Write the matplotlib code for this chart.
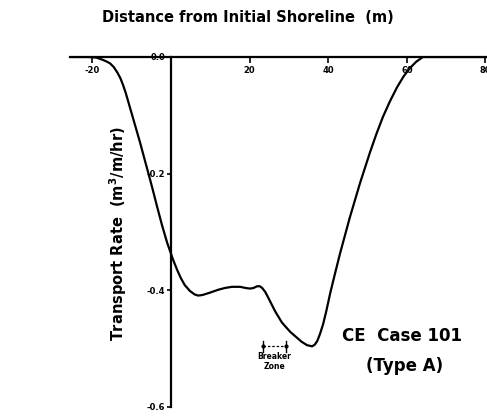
import matplotlib
matplotlib.use("Agg")
import matplotlib.pyplot as plt

# Data
dist = [-26, -21, -19, -17.3, -16.3, -15.5, -14.6, -13.7, -12.9, -12.2, -11.5,
        -10.9, -10.3, -9.7, -8.8, -7.9, -6.9, -5.85, -4.7, -3.6, -2.3, -1.0, 0.5,
        1.5, 2.5, 3.5, 4.8, 6.0, 6.9, 8.0, 9.9, 12.0, 13.7, 15.5, 17.6, 19.0,
        20.1, 21.0, 21.9, 22.6, 23.2, 24.0, 24.7, 25.6, 26.5, 28.2, 30.3, 32.0,
        33.2, 34.6, 35.9, 36.6, 37.2, 37.9, 38.7, 39.5, 40.5, 41.7, 43.0, 45.5,
        48.1, 50.6, 52.2, 53.9, 55.7, 57.5, 59.2, 60.8, 62.4, 64.1, 70, 81]
rate = [0.0, 0.0, -0.001, -0.005, -0.008, -0.011, -0.017, -0.026, -0.036, -0.048,
        -0.062, -0.076, -0.090, -0.104, -0.125, -0.146, -0.171, -0.197, -0.226,
        -0.255, -0.288, -0.318, -0.347, -0.364, -0.379, -0.391, -0.401, -0.407,
        -0.409, -0.408, -0.404, -0.399, -0.396, -0.394, -0.394, -0.396, -0.397,
        -0.396, -0.393, -0.393, -0.396, -0.403, -0.412, -0.424, -0.436, -0.455,
        -0.471, -0.481, -0.488, -0.494, -0.496, -0.493, -0.487, -0.475, -0.458,
        -0.436, -0.405, -0.372, -0.337, -0.275, -0.216, -0.164, -0.133, -0.103,
        -0.076, -0.052, -0.033, -0.019, -0.008, 0.0, 0.0, 0.0]

xticks = [-20, 0, 20, 40, 60, 80]
xticklabels = ["-20", "", "20", "40", "60", "80"]
yticks = [0.0, -0.2, -0.4, -0.6]
yticklabels = ["0.0", "-0.2", "-0.4", "-0.6"]
breaker_zone = [23.4, 29.3]

plt.rcParams['font.family'] = ['DejaVu Sans']
plt.rcParams['font.weight'] = 'bold'

W, H = 487, 418
fig = plt.figure(figsize=(W / 100, H / 100), dpi=100)
ax = fig.add_axes([70 / W, 1 - 407 / H, 417 / W, 350 / H])
ax.set_xlim(-25.7, 80.4)
ax.set_ylim(-0.6, 0.0)

ax.plot(dist, rate, color='black', lw=1.6, solid_joinstyle='round',
        solid_capstyle='round')

for s in ['bottom', 'right']:
    ax.spines[s].set_visible(False)
ax.spines['top'].set_linewidth(1.6)
ax.spines['left'].set_position(('data', 0))
ax.spines['left'].set_linewidth(1.6)

ax.xaxis.tick_top()
ax.set_xticks(xticks)
ax.set_xticklabels(xticklabels)
ax.tick_params(axis='x', direction='in', length=4, width=1.2, pad=-13,
               labelsize=6, top=True, bottom=False)
ax.set_yticks(yticks)
ax.set_yticklabels(yticklabels)
ax.tick_params(axis='y', direction='out', length=3, width=1.2, pad=1, labelsize=6)

fig.text(248 / W, 1 - 18 / H, "Distance from Initial Shoreline  (m)",
         ha='center', va='center', fontsize=10.5, fontweight='bold')
fig.text(118 / W, 1 - 234 / H, "Transport Rate  (m$^3$/m/hr)", rotation=90,
         ha='center', va='center', fontsize=10.5, fontweight='bold')

# Breaker zone marker
yb = -0.496
ax.plot(breaker_zone, [yb, yb], color='black', lw=0.9, ls=(0, (2, 1.5)))
for xb in breaker_zone:
    ax.plot([xb, xb], [yb - 0.009, yb + 0.009], color='black', lw=1.0)
ax.plot(breaker_zone, [yb, yb], 'o', color='black', ms=2)
ax.text(sum(breaker_zone) / 2, -0.522, "Breaker\nZone", ha='center', va='center',
        fontsize=5.5, fontweight='bold', linespacing=1.1)

ax.text(58.8, -0.478, "CE  Case 101", ha='center', va='center', fontsize=12,
        fontweight='bold')
ax.text(59.5, -0.530, "(Type A)", ha='center', va='center', fontsize=12,
        fontweight='bold')

fig.savefig("out.png", dpi=100)
